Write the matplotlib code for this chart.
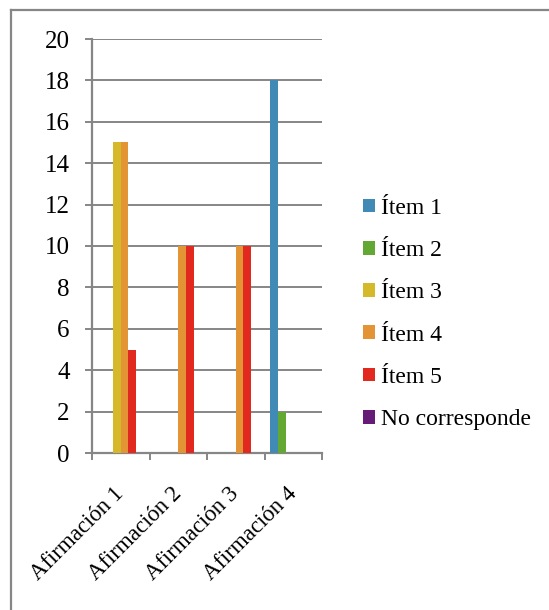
import numpy as np
import matplotlib
matplotlib.use('Agg')
import matplotlib.pyplot as plt
from matplotlib.lines import Line2D


categories = ['Afirmación 1', 'Afirmación 2', 'Afirmación 3', 'Afirmación 4']
series_names = ['Ítem 1', 'Ítem 2', 'Ítem 3', 'Ítem 4', 'Ítem 5', 'No corresponde']

item1 = [0, 0, 0, 18]
item2 = [0, 0, 0, 2]
item3 = [15, 0, 0, 0]
item4 = [15, 10, 10, 0]
item5 = [5, 10, 10, 0]
no_corresponde = [0, 0, 0, 0]

colors = ['#408ab5', '#62a832', '#d6b92a', '#e39434', '#e2291f', '#661b76']
grid_gray = '#868686'

plt.rcParams['font.family'] = ['Liberation Serif', 'DejaVu Serif']

fig = plt.figure(figsize=(5.49, 6.10), dpi=100)
ax = fig.add_axes([92 / 549, (610 - 453) / 610, 230 / 549, 414 / 610])

# outer chart frame (only top and left edges fall inside the image)
fig.add_artist(Line2D([11 / 549, 11 / 549], [0, 1 - 10 / 610],
                      transform=fig.transFigure, color=grid_gray, lw=1.6))
fig.add_artist(Line2D([11 / 549, 1], [1 - 10 / 610, 1 - 10 / 610],
                      transform=fig.transFigure, color=grid_gray, lw=1.6))

all_series = [item1, item2, item3, item4, item5, no_corresponde]
n = len(all_series)
x = np.arange(len(categories))
group = 0.8
w = group / n

for i, (vals, name, c) in enumerate(zip(all_series, series_names, colors)):
    offs = -group / 2 + w * (i + 0.5)
    ax.bar(x + offs, vals, width=w, color=c, label=name, zorder=3, linewidth=0)

ax.set_xlim(-0.5, len(categories) - 0.5)
ax.set_ylim(0, 20)
ax.set_yticks(range(0, 21, 2))
ax.yaxis.grid(True, color=grid_gray, linewidth=1.4, zorder=0)
ax.set_axisbelow(True)

# category boundaries carry the tick marks, centers carry the labels
ax.set_xticks(np.arange(-0.5, len(categories), 1.0))
ax.set_xticklabels([])
ax.set_xticks(x, minor=True)
ax.set_xticklabels(categories, minor=True, rotation=45, ha='right',
                   va='center', rotation_mode='anchor', fontsize=16.5)
ax.tick_params(axis='x', which='minor', length=0, pad=27)
ax.tick_params(axis='x', which='major', length=5, width=1.4, color=grid_gray)
ax.tick_params(axis='y', length=5, width=1.4, color=grid_gray, labelsize=18, pad=11)

for side in ['top', 'right']:
    ax.spines[side].set_visible(False)
for side in ['left', 'bottom']:
    ax.spines[side].set_color(grid_gray)
    ax.spines[side].set_linewidth(1.6)

ax.legend(loc='center left', bbox_to_anchor=(353.5 / 549, 296 / 610),
          bbox_transform=fig.transFigure, frameon=False, fontsize=17,
          handlelength=0.51, handleheight=0.51, handletextpad=0.25,
          labelspacing=0.9, borderaxespad=0)

fig.savefig('out.png', dpi=100)
